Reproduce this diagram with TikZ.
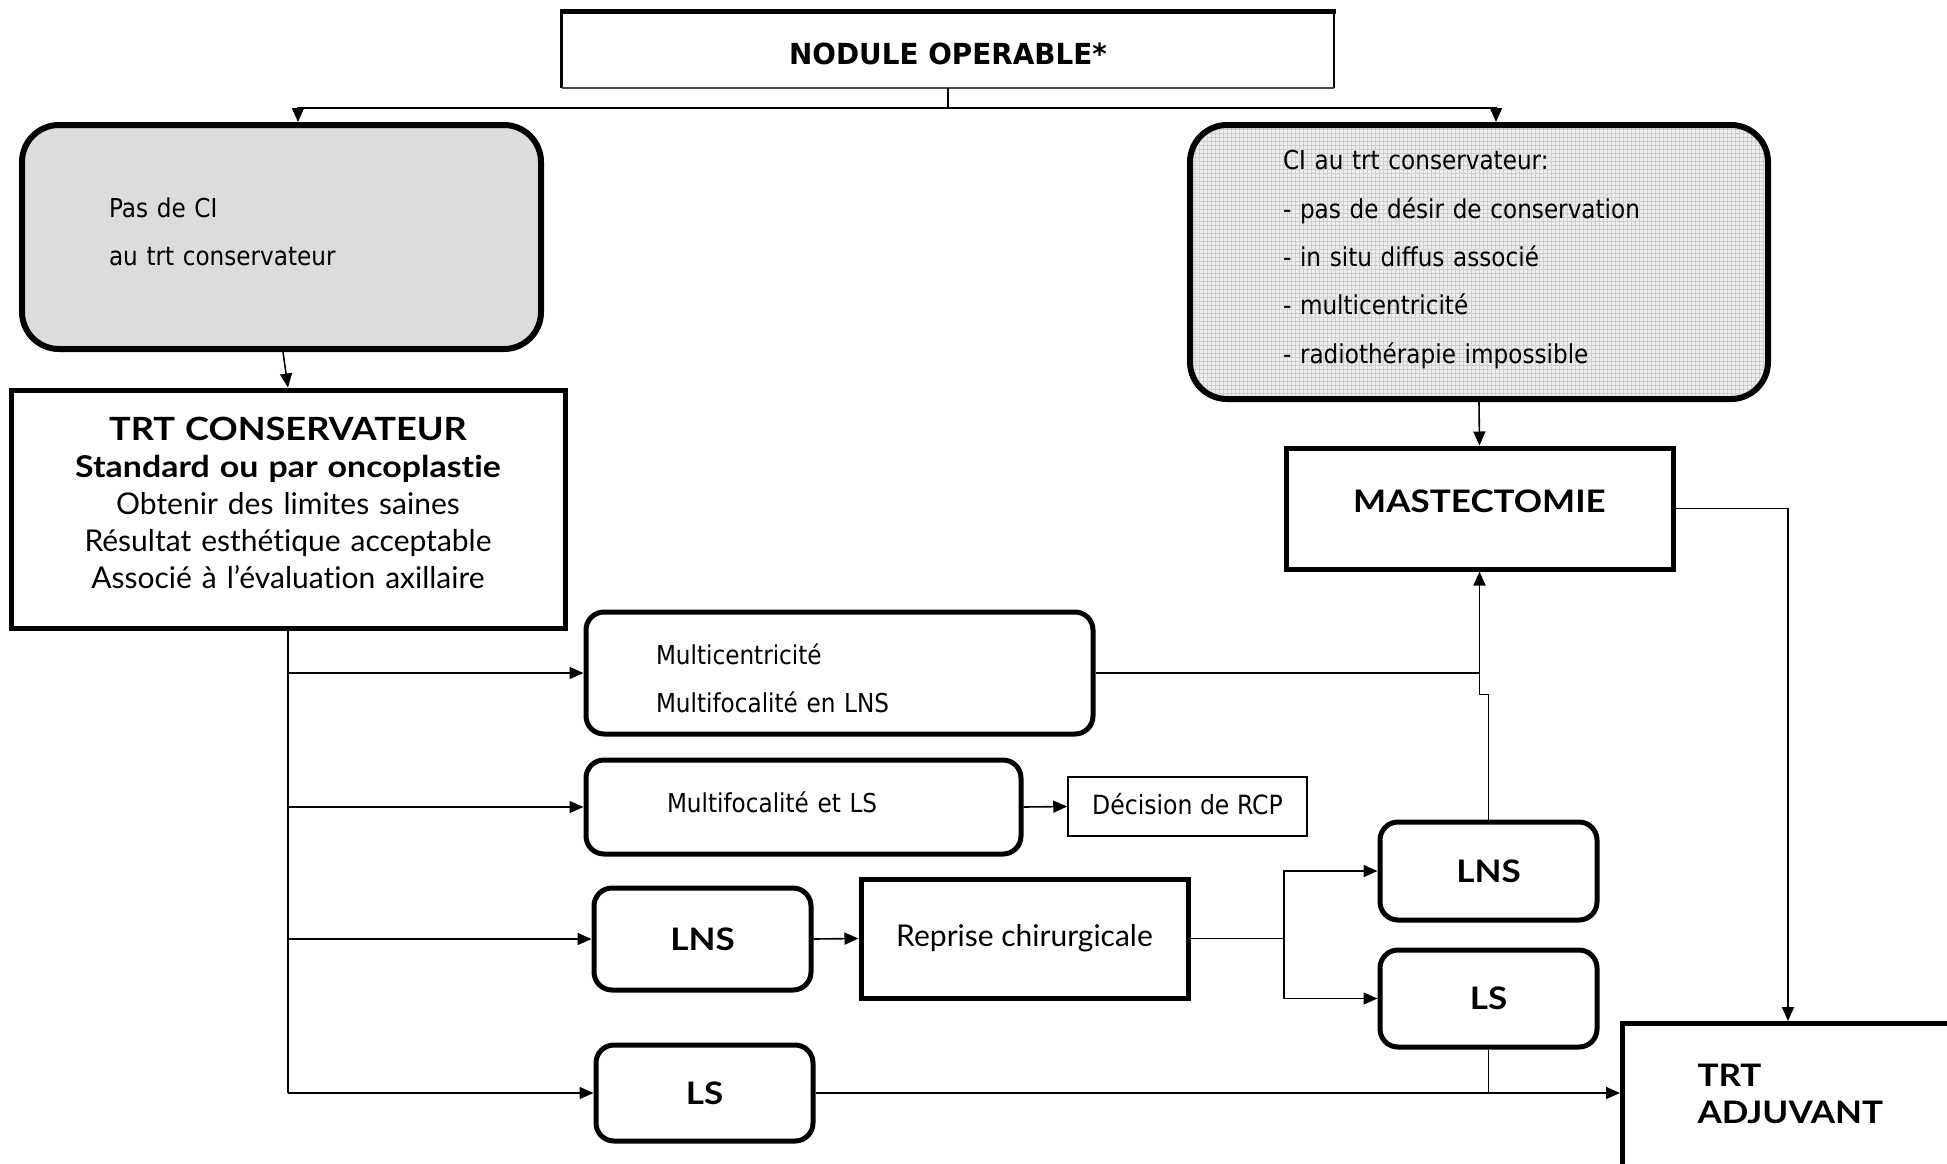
\documentclass[tikz,border=0pt]{standalone}
\usepackage{fontspec}
\usetikzlibrary{arrows.meta}
\newfontfamily\tah[FakeStretch=0.89]{DejaVu Sans}
\newfontfamily\tahb[FakeStretch=0.96]{DejaVu Sans}
\newfontfamily\gil[Ligatures=NoCommon]{Lato}
\newfontfamily\gilw[Ligatures=NoCommon,FakeStretch=1.13]{Lato}
\definecolor{boxgray}{HTML}{DCDCDC}
\definecolor{hatchbase}{HTML}{EEEEEE}
\definecolor{hatchline}{HTML}{CFCFCF}
\begin{document}
\begin{tikzpicture}[x=1pt,y=-1pt,
  conn/.style={line width=1.6pt},
  arr/.style={conn,-{Triangle[length=14pt,width=12pt]}},
  tahfont/.style={font=\tah\fontsize{26}{48.4}\selectfont},
  gilfont/.style={font=\gil\fontsize{30}{37}\selectfont},
  softbox/.style={draw, line width=6pt, rounded corners=37pt, inner ysep=0pt, align=left},
  roundbox/.style={draw, line width=5pt, rounded corners=18pt, inner sep=0pt},
  sqbox/.style={draw, line width=5pt, inner sep=0pt},
  boldlabel/.style={font=\gilw\bfseries\fontsize{31}{37}\selectfont}
]
\useasboundingbox (0,0) rectangle (1947,1163);

% top entry box: heavy top edge, light other edges
\node[minimum width=772pt, minimum height=76pt, inner sep=0pt, text height=29pt, text depth=0pt,
      font=\tahb\bfseries\fontsize{29}{34}\selectfont] (nod) at (948,50) {NODULE OPERABLE*};
\draw[line width=5pt] ([xshift=-1.5pt]nod.north west) -- ([xshift=1.5pt]nod.north east);
\draw[line width=3pt] (nod.north west) -- (nod.south west);
\draw[line width=2.2pt] (nod.north east) -- (nod.south east);
\draw[line width=1.6pt, black!70] (nod.south west) -- (nod.south east);

% the two indications (a trailing kern moves the text block within its box)
\node[softbox, tahfont, fill=boxgray, minimum width=519pt, minimum height=224pt,
      inner xsep=87pt, text width=345pt] (pasci) at (281.5,237)
  {Pas de CI\\au trt conservateur\par\kern10pt};
\node[softbox, tahfont, fill=hatchbase, minimum width=578pt, minimum height=274pt,
      inner xsep=93pt, text width=392pt,
      path picture={\draw[hatchline, line width=0.8pt, step=4pt]
        (path picture bounding box.south west) grid (path picture bounding box.north east);}]
  (ci) at (1479,262)
  {CI au trt conservateur:\\- pas de désir de conservation\\- in situ diffus associé\\- multicentricité\\- radiothérapie impossible\par\kern5pt};

% main treatments
\node[sqbox, gilfont, align=center, text width=540pt, minimum width=554pt, minimum height=238pt] (trtc) at (288,509)
  {{\gilw\bfseries\fontsize{32}{37}\selectfont TRT CONSERVATEUR}\\
   {\gilw\bfseries Standard ou par oncoplastie}\\
   Obtenir des limites saines\\Résultat esthétique acceptable\\Associé à l’évaluation axillaire\par\kern12.5pt};
\node[sqbox, boldlabel, minimum width=387pt, minimum height=121pt, text height=22pt, text depth=15pt]
  (mast) at (1479.5,508.5) {MASTECTOMIE};
\node[sqbox, boldlabel, anchor=north west, align=left, minimum width=360pt, minimum height=150pt,
      inner xsep=75pt, text width=210pt] (adj) at (1620,1021) {TRT\\ADJUVANT\par\kern10pt};

% outcomes of conservative surgery
\node[roundbox, font=\tah\fontsize{26}{48}\selectfont, align=left, minimum width=507pt, minimum height=122pt,
      inner xsep=70pt, text width=367pt] (multic) at (839.5,673)
  {Multicentricité\\Multifocalité en LNS\par\kern-10pt};
\node[roundbox, font=\tah\fontsize{26}{48}\selectfont, align=left, minimum width=435pt, minimum height=94pt,
      inner xsep=81pt, text width=273pt] (multifls) at (803.5,807)
  {Multifocalité et LS\par\kern10pt};
\node[draw, line width=1.5pt, font=\tah\fontsize{26.5}{30}\selectfont, minimum width=239pt, minimum height=59pt,
      inner sep=0pt, text height=20pt, text depth=5pt] (rcp) at (1187.5,806.5) {Décision de RCP};
\node[roundbox, boldlabel, minimum width=217pt, minimum height=102pt] (lns1) at (702.5,939) {LNS};
\node[sqbox, gilfont, minimum width=327pt, minimum height=119pt] (reprise) at (1024.5,938.5) {Reprise chirurgicale};
\node[roundbox, boldlabel, minimum width=217pt, minimum height=98pt] (lns2) at (1488.5,871) {LNS};
\node[roundbox, boldlabel, minimum width=217pt, minimum height=97pt] (ls2) at (1488.5,998.5) {LS};
\node[roundbox, boldlabel, minimum width=217pt, minimum height=96pt] (ls1) at (704.5,1093) {LS};

% connectors
\draw[conn] (nod.south) -- ++(0,20) coordinate (tsplit);
\draw[arr] (tsplit) -| (298,0 |- pasci.north);
\draw[arr] (tsplit) -| (1496,0 |- ci.north);
\draw[arr] (283,0 |- pasci.south) -- (288,0 |- trtc.north);
\draw[arr] (ci.south) -- (mast.north);
\draw[arr] (mast.east) -| (1788,0 |- adj.north);

\draw[conn] (trtc.south) -- (trtc.south |- ls1.west);
\draw[arr] (trtc.south |- multic.west) -- (multic.west);
\draw[arr] (trtc.south |- multifls.west) -- (multifls.west);
\draw[arr] (trtc.south |- lns1.west) -- (lns1.west);
\draw[arr] (trtc.south |- ls1.west) -- (ls1.west);

\draw[arr] (multifls.east) -- (rcp.west);
\draw[arr] (lns1.east) -- (reprise.west);
\draw[conn] (reprise.east) -- (1284,0 |- reprise.east) coordinate (rsplit);
\draw[arr] (rsplit) |- (lns2.west);
\draw[arr] (rsplit) |- (ls2.west);

\draw[conn] (multic.east) -- (mast.south |- multic.east);
\draw[arr] (lns2.north) -- ++(0,-125) -| (mast.south);

\draw[arr] (ls1.east) -- (adj.west |- ls1.east);
\draw[conn] (ls2.south) -- (ls2.south |- ls1.east);
\end{tikzpicture}
\end{document}
